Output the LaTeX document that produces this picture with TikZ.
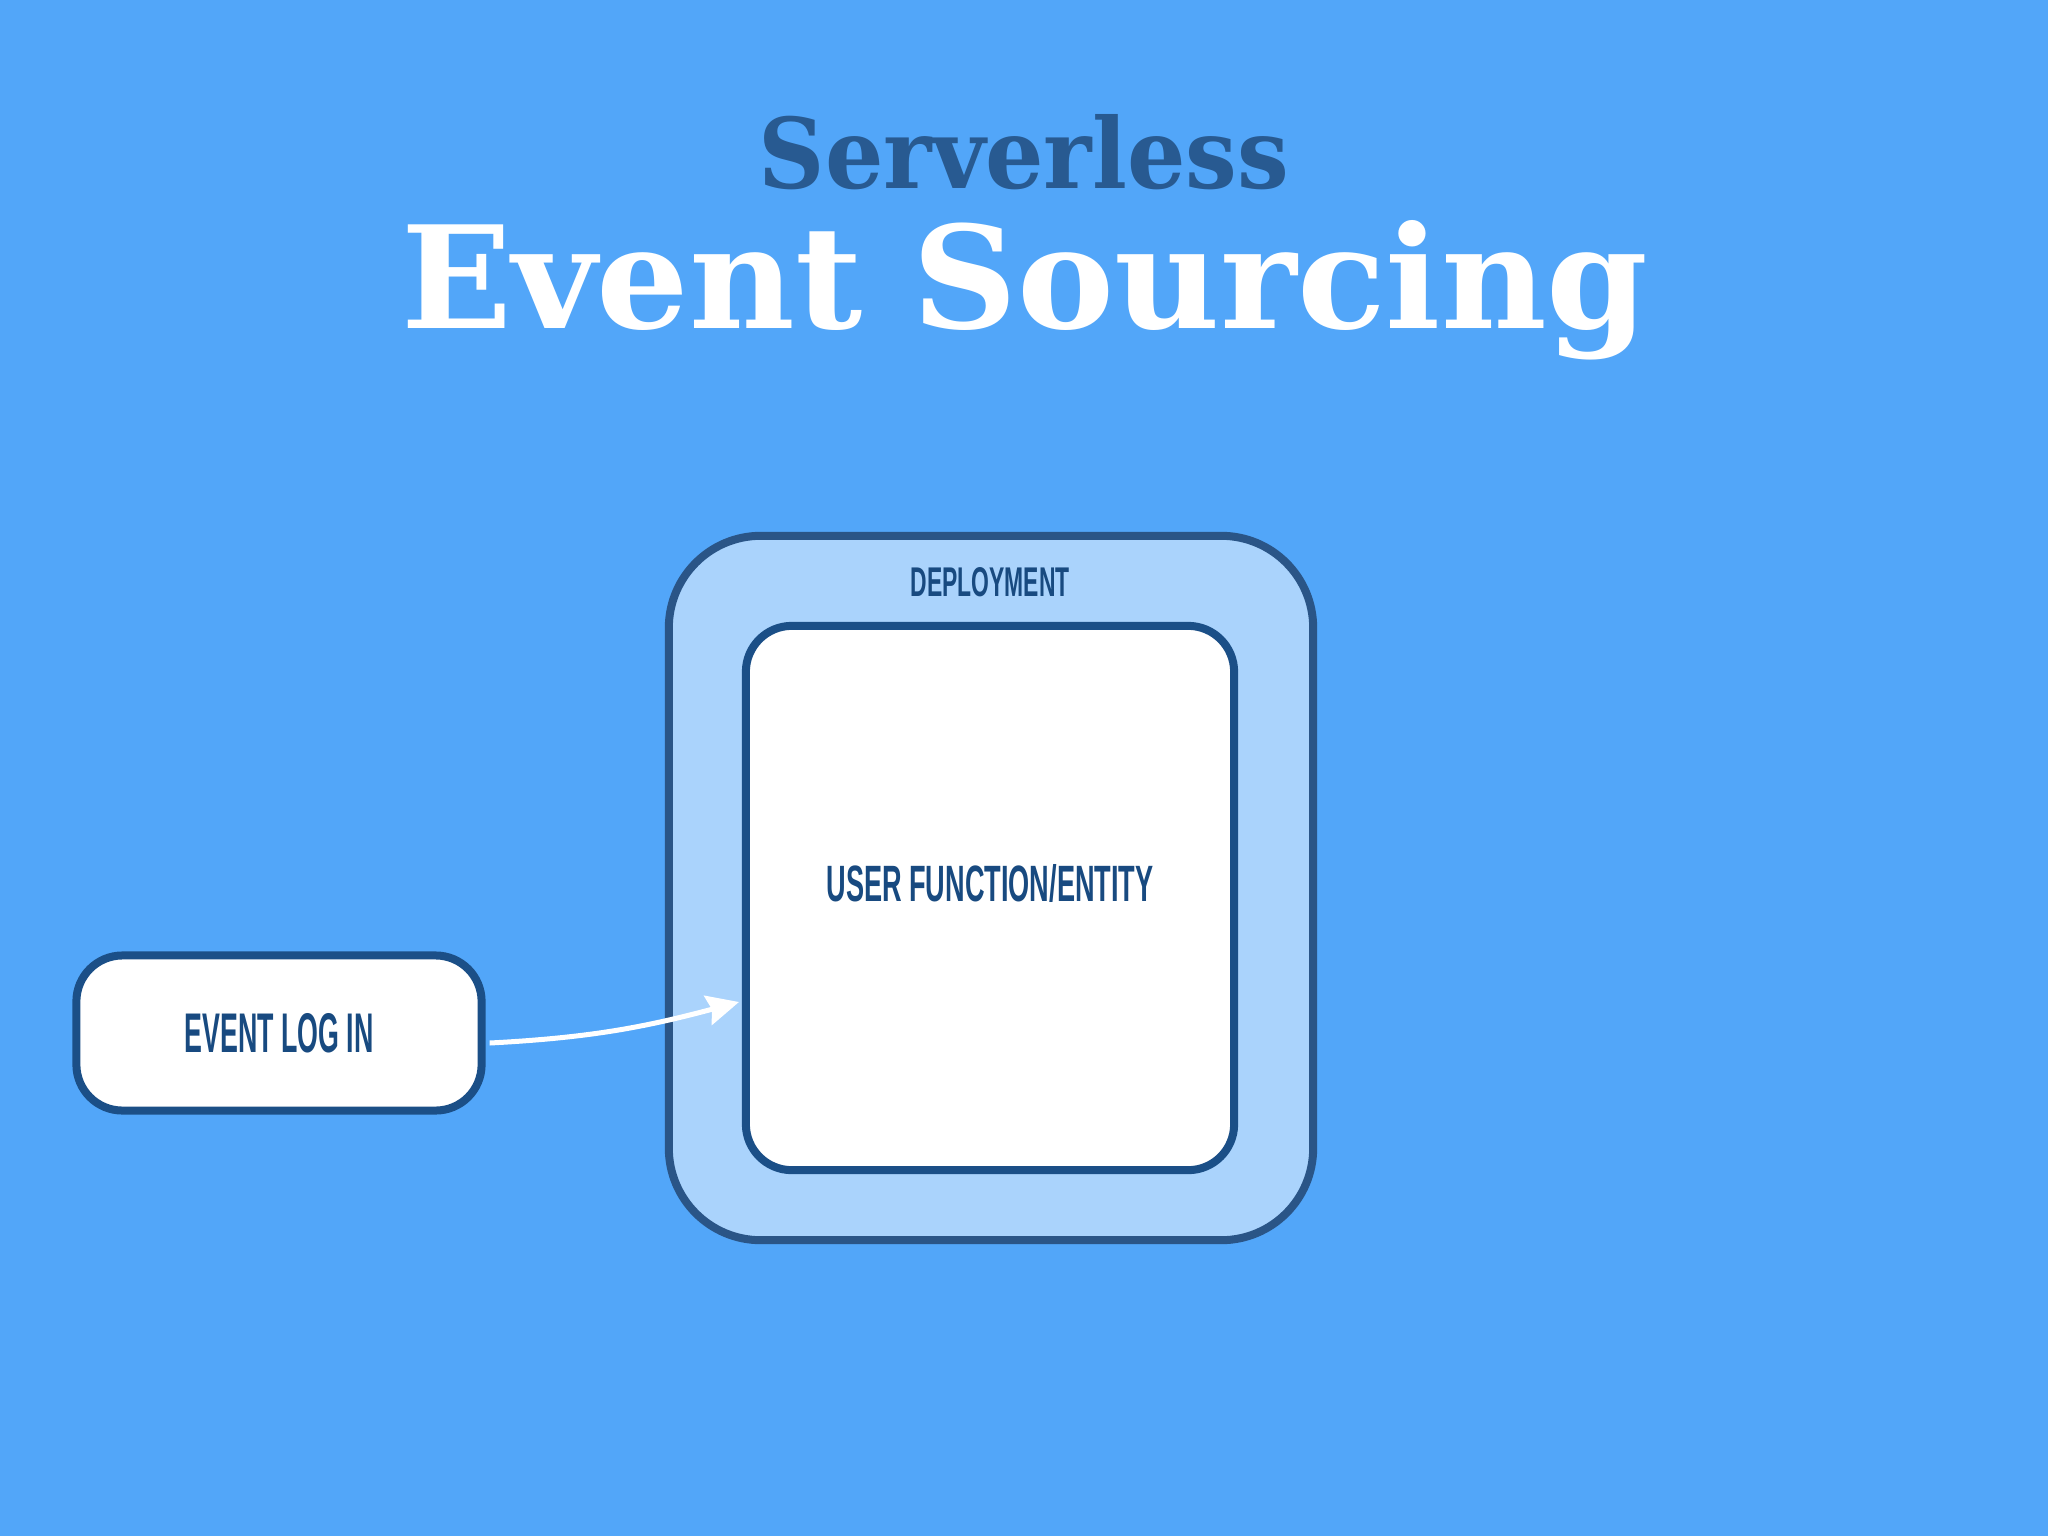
\documentclass[tikz,border=0pt]{standalone}
\usepackage{fontspec}
\usepackage{graphicx}
\usetikzlibrary{arrows.meta}
\setmainfont{DejaVu Serif}
\newfontfamily\labelfont[FakeStretch=0.62]{Liberation Sans}
\definecolor{bg}{RGB}{82,166,249}
\definecolor{lightfill}{RGB}{170,211,252}
\definecolor{outerline}{RGB}{42,85,135}
\definecolor{innerline}{RGB}{27,79,135}
\definecolor{titleblue}{RGB}{40,90,145}
\definecolor{labelblue}{RGB}{24,74,128}
\tikzset{
  box/.style={draw=innerline, line width=0.08cm, fill=white, inner sep=0pt},
  lbl/.style={text=labelblue, inner sep=0pt, font=\labelfont\bfseries},
}
\begin{document}
\begin{tikzpicture}[x=0.01cm, y=-0.01cm]
\fill[bg] (0,0) rectangle (2048,1536);
\useasboundingbox (0,0) rectangle (2048,1536);
% titles
\node[inner sep=0pt, text=titleblue, anchor=base] (t1) at (1024,188) {\resizebox{5.3cm}{0.74cm}{\bfseries Serverless}};
\node[inner sep=0pt, text=white, anchor=base] (t2) at (1025,328) {\resizebox{12.46cm}{1.08cm}{\bfseries Event Sourcing}};
% deployment
\node[box, draw=outerline, fill=lightfill, rounded corners=0.92cm, minimum width=6.44cm, minimum height=7.04cm] (dep) at (991,888) {};
\node[lbl, anchor=base] (deplbl) at (990,596) {\resizebox{1.59cm}{0.29cm}{DEPLOYMENT}};
\node[box, rounded corners=0.46cm, minimum width=4.88cm, minimum height=5.44cm] (fn) at (990,898) {};
\node[lbl, anchor=base] (fnlbl) at (990,901) {\resizebox{3.27cm}{0.37cm}{USER FUNCTION/ENTITY}};
% event log
\node[box, rounded corners=0.46cm, minimum width=4.05cm, minimum height=1.55cm] (log) at (279,1033) {\resizebox{1.89cm}{0.39cm}{\labelfont\bfseries\color{labelblue}EVENT LOG IN}};
\coordinate (tip) at (739,1002);
\draw[white, line width=0.05cm, -{Stealth[length=0.32cm, width=0.3cm, inset=0.04cm]}] ([xshift=0.04cm,yshift=-0.1cm]log.east) to[out=3, in=195] (tip);
\end{tikzpicture}
\end{document}
